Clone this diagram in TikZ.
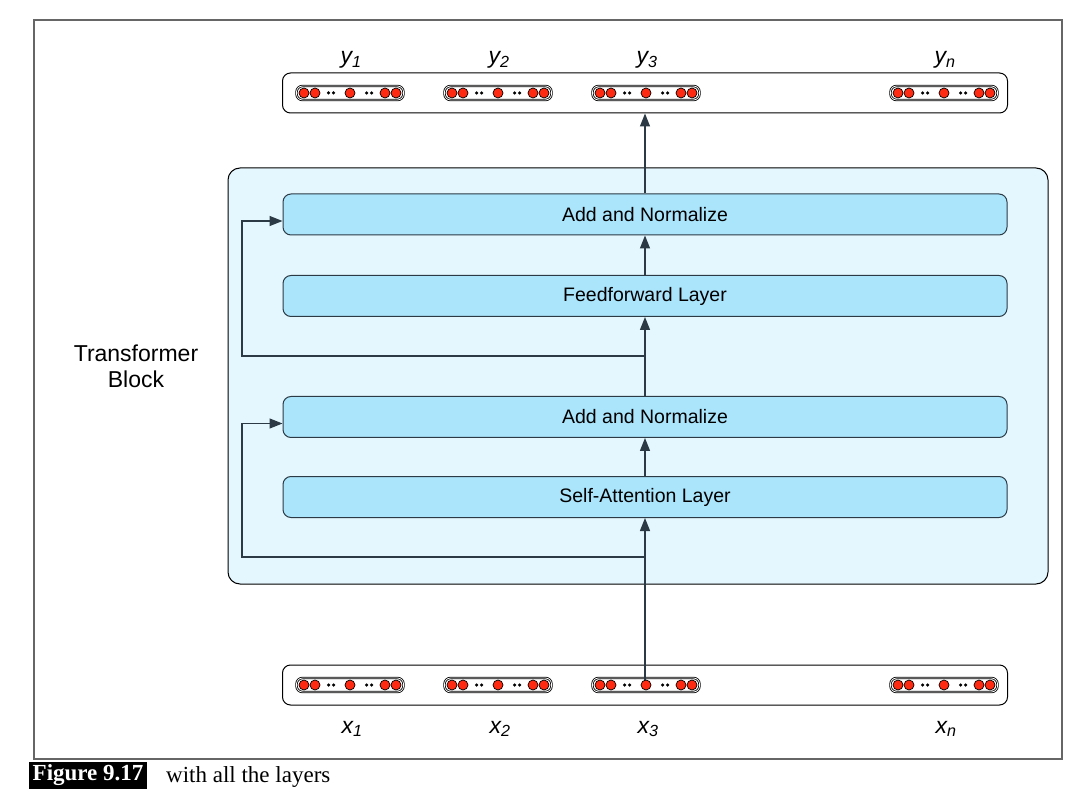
\documentclass[tikz,border=0pt]{standalone}
\usepackage{fontspec}
\setmainfont{Liberation Sans}
\newfontfamily\capfont{Liberation Serif}
\usetikzlibrary{shapes.geometric, arrows.meta}

\definecolor{blockfill}{HTML}{E4F6FE}
\definecolor{layerfill}{HTML}{AAE5FC}
\definecolor{edgecol}{HTML}{2B3A44}
\definecolor{cellred}{HTML}{FF2A12}

\tikzstyle{block} = [
    rectangle,
    rounded corners=12pt,
    minimum width=820pt,
    minimum height=416pt,
    line width=1pt,
    draw=black,
    fill=blockfill
]
\tikzstyle{layerbox} = [
    rectangle,
    rounded corners=8pt,
    minimum width=724pt,
    minimum height=41pt,
    line width=1pt,
    draw=edgecol,
    fill=layerfill,
    font=\fontsize{19.5}{22}\selectfont
]
\tikzstyle{panel} = [
    rectangle,
    rounded corners=8pt,
    minimum width=725pt,
    minimum height=40pt,
    line width=1pt,
    draw=black,
    fill=white
]
\tikzstyle{vecbox} = [
    rectangle,
    rounded corners=6pt,
    minimum width=107pt,
    minimum height=14pt,
    line width=0.8pt,
    draw=black,
    double=white,
    double distance=0.8pt
]
\tikzstyle{cell} = [circle, minimum size=10pt, inner sep=0pt, line width=0.7pt, draw=black, fill=cellred]
\tikzstyle{vecdot} = [circle, minimum size=3.5pt, inner sep=0pt, fill=black]
\tikzstyle{lbl} = [anchor=base, font=\fontsize{23}{26}\selectfont\itshape]
\tikzstyle{arrow} = [line width=1.3pt, draw=edgecol, -{Triangle[length=13pt,width=10pt]}]

\begin{document}
\begin{tikzpicture}[x=1pt, y=1pt, node distance=80pt]

\useasboundingbox (0,0) rectangle (1073,796);
\fill [white] (0,0) rectangle (1073,796);
\draw [gray!80!black, line width=1.5pt] (34,37) rectangle (1062,776);

\node (block) [block] at (638,420) {};

\node (tlabel) [align=center, font=\fontsize{23}{26}\selectfont] at (136,429.5)
{Transformer\\Block};

\node (addtop) [layerbox] at (645,581.5) {Add and Normalize};

\node (ffn) [layerbox, below of=addtop, yshift=-1.5pt] {Feedforward Layer};

\node (addbot) [layerbox, below of=ffn, yshift=-41pt] {Add and Normalize};

\node (selfattn) [layerbox, below of=addbot] {Self-Attention Layer};

\node (outpanel) [panel] at (645,703) {};
\node (inpanel) [panel] at (645,111) {};

% token vectors
\foreach \v/\cx in {y1/350, y2/498, y3/646, yn/944}
    \node (\v) [vecbox] at (\cx,703) {};
\foreach \v/\cx in {x1/350, x2/498, x3/646, xn/944}
    \node (\v) [vecbox] at (\cx,111) {};

\coordinate (res1) at (645,239);
\coordinate (loop1) at (242,239);
\coordinate (res2) at (645,440);
\coordinate (loop2) at (242,440);

\draw [arrow] ([xshift=-1pt, yshift=4pt]x3.center) -- (selfattn);
\draw [arrow] (selfattn) -- (addbot);
\draw [arrow] (addbot) -- (ffn);
\draw [arrow] (ffn) -- (addtop);
\draw [arrow] (addtop) -- (outpanel);

\draw [arrow] (res1) -- (loop1) |- ([yshift=-6.5pt]addbot.west);
\draw [arrow] (res2) -- (loop2) |- ([yshift=-6.5pt]addtop.west);

\foreach \v in {y1, y2, y3, yn, x1, x2, x3, xn} {
    \foreach \d in {-46, -35, 0, 35, 46}
        \node [cell] at ([xshift=\d pt]\v.center) {};
    \foreach \d in {-21.5, -16.5, 16.5, 21.5}
        \node [vecdot] at ([xshift=\d pt]\v.center) {};
}

\node (ly1) [lbl] at (351,732) {y\textsubscript{1}};
\node (ly2) [lbl] at (499,732) {y\textsubscript{2}};
\node (ly3) [lbl] at (647,732) {y\textsubscript{3}};
\node (lyn) [lbl] at (945,732) {y\textsubscript{n}};

\node (lx1) [lbl] at (352,63) {x\textsubscript{1}};
\node (lx2) [lbl] at (500,63) {x\textsubscript{2}};
\node (lx3) [lbl] at (648,63) {x\textsubscript{3}};
\node (lxn) [lbl] at (946,63) {x\textsubscript{n}};

% caption
\node (figtag) [anchor=west, fill=black, text=white, inner xsep=3.5pt, inner ysep=2.5pt,
    font=\capfont\bfseries\fontsize{23}{25}\selectfont] at (29,20.5) {Figure 9.17};
\node (figtext) [anchor=base west, inner sep=0pt,
    font=\capfont\fontsize{23}{25}\selectfont] at (166,13.3) {with all the layers};

\end{tikzpicture}
\end{document}
